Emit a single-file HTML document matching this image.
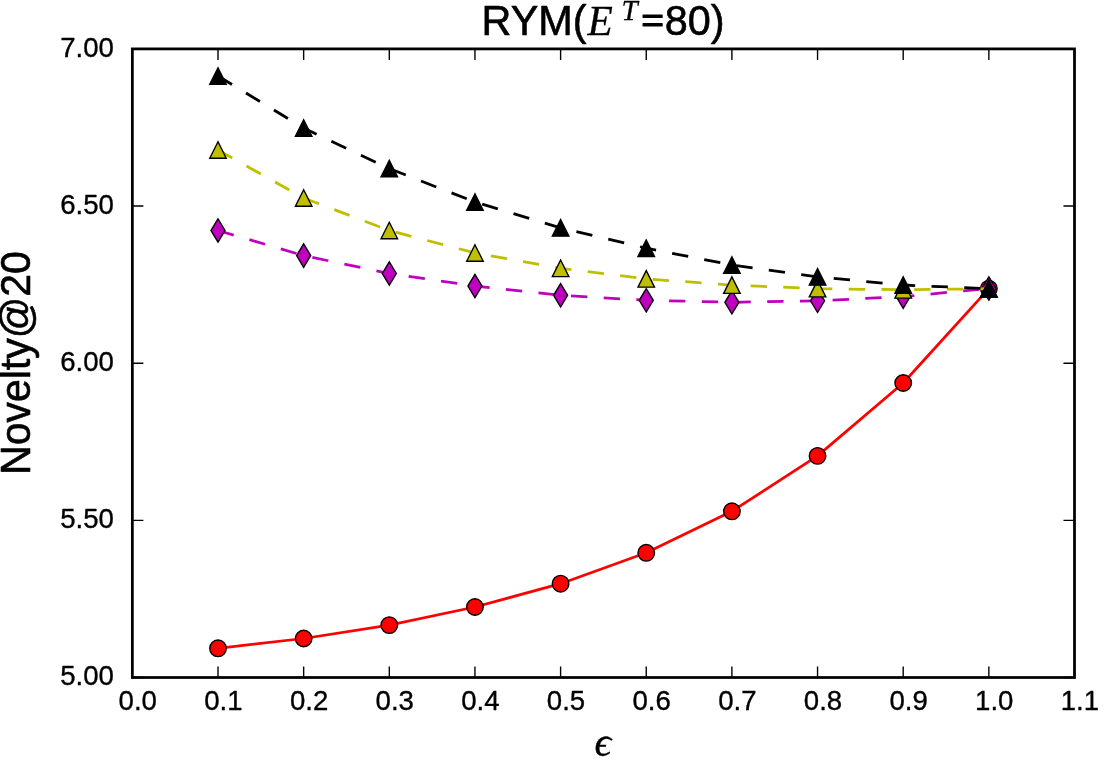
<!DOCTYPE html>
<html><head><meta charset="utf-8"><title>RYM novelty chart</title>
<style>html,body{margin:0;padding:0;background:#fff;}body{width:1105px;height:766px;overflow:hidden;font-family:"Liberation Sans",sans-serif;}svg{display:block;will-change:transform;}text{font-family:"Liberation Sans",sans-serif;fill:#000;}</style>
</head><body>
<svg width="1105" height="766" viewBox="0 0 1105 766">
<rect x="0" y="0" width="1105" height="766" fill="#ffffff"/>
<defs>
<path id="mk-tri" d="M0 -8.28 L-8.28 8.28 L8.28 8.28 Z"/>
<path id="mk-dia" d="M0 -11.71 L7.03 0 L0 11.71 L-7.03 0 Z"/>
<circle id="mk-cir" cx="0" cy="0" r="8.28"/>
</defs>
<g id="lines" fill="none" stroke-linejoin="round">
<g class="series-r">
<polyline points="218,648.3 303.65,638.5 389.3,625.1 474.95,607 560.6,583.7 646.25,552.8 731.9,511.3 817.55,455.9 903.2,383 988.85,288.6" stroke="#ff0000" stroke-width="2.76"/>
<g fill="#ff0000" stroke="#000" stroke-width="1.38" stroke-linejoin="miter">
<use href="#mk-cir" x="218" y="648.3"/>
<use href="#mk-cir" x="303.65" y="638.5"/>
<use href="#mk-cir" x="389.3" y="625.1"/>
<use href="#mk-cir" x="474.95" y="607"/>
<use href="#mk-cir" x="560.6" y="583.7"/>
<use href="#mk-cir" x="646.25" y="552.8"/>
<use href="#mk-cir" x="731.9" y="511.3"/>
<use href="#mk-cir" x="817.55" y="455.9"/>
<use href="#mk-cir" x="903.2" y="383"/>
<use href="#mk-cir" x="988.85" y="288.6"/>
</g></g>
<g class="series-m">
<polyline points="218,230.45 303.65,255.6 389.3,273.5 474.95,286.05 560.6,295.3 646.25,300.3 731.9,302.3 817.55,300.8 903.2,296.6 988.85,288.5" stroke="#bf00bf" stroke-width="2.76" stroke-dasharray="16.36 16.36"/>
<g fill="#bf00bf" stroke="#000" stroke-width="1.38" stroke-linejoin="miter">
<use href="#mk-dia" x="218" y="230.45"/>
<use href="#mk-dia" x="303.65" y="255.6"/>
<use href="#mk-dia" x="389.3" y="273.5"/>
<use href="#mk-dia" x="474.95" y="286.05"/>
<use href="#mk-dia" x="560.6" y="295.3"/>
<use href="#mk-dia" x="646.25" y="300.3"/>
<use href="#mk-dia" x="731.9" y="302.3"/>
<use href="#mk-dia" x="817.55" y="300.8"/>
<use href="#mk-dia" x="903.2" y="296.6"/>
<use href="#mk-dia" x="988.85" y="288.5"/>
</g></g>
<g class="series-y">
<polyline points="218,150 303.65,198 389.3,230.5 474.95,253 560.6,268.3 646.25,278.9 731.9,285.1 817.55,288.6 903.2,289.8 988.85,288.7" stroke="#bfbf00" stroke-width="2.76" stroke-dasharray="16.36 16.36"/>
<g fill="#bfbf00" stroke="#000" stroke-width="1.38" stroke-linejoin="miter">
<use href="#mk-tri" x="218" y="150"/>
<use href="#mk-tri" x="303.65" y="198"/>
<use href="#mk-tri" x="389.3" y="230.5"/>
<use href="#mk-tri" x="474.95" y="253"/>
<use href="#mk-tri" x="560.6" y="268.3"/>
<use href="#mk-tri" x="646.25" y="278.9"/>
<use href="#mk-tri" x="731.9" y="285.1"/>
<use href="#mk-tri" x="817.55" y="288.6"/>
<use href="#mk-tri" x="903.2" y="289.8"/>
<use href="#mk-tri" x="988.85" y="288.7"/>
</g></g>
<g class="series-k">
<polyline points="218,76 303.65,128 389.3,168.6 474.95,202 560.6,227.85 646.25,248.2 731.9,265 817.55,276.9 903.2,285 988.85,288.8" stroke="#000000" stroke-width="2.76" stroke-dasharray="16.36 16.36"/>
<g fill="#000000" stroke="#000" stroke-width="1.38" stroke-linejoin="miter">
<use href="#mk-tri" x="218" y="76"/>
<use href="#mk-tri" x="303.65" y="128"/>
<use href="#mk-tri" x="389.3" y="168.6"/>
<use href="#mk-tri" x="474.95" y="202"/>
<use href="#mk-tri" x="560.6" y="227.85"/>
<use href="#mk-tri" x="646.25" y="248.2"/>
<use href="#mk-tri" x="731.9" y="265"/>
<use href="#mk-tri" x="817.55" y="276.9"/>
<use href="#mk-tri" x="903.2" y="285"/>
<use href="#mk-tri" x="988.85" y="288.8"/>
</g></g>
</g>
<g id="ticks" stroke="#000" stroke-width="1.38" fill="none">
<path d="M132.35 677.5 v-11.04 M132.35 48.9 v11.04 M218 677.5 v-11.04 M218 48.9 v11.04 M303.65 677.5 v-11.04 M303.65 48.9 v11.04 M389.3 677.5 v-11.04 M389.3 48.9 v11.04 M474.95 677.5 v-11.04 M474.95 48.9 v11.04 M560.6 677.5 v-11.04 M560.6 48.9 v11.04 M646.25 677.5 v-11.04 M646.25 48.9 v11.04 M731.9 677.5 v-11.04 M731.9 48.9 v11.04 M817.55 677.5 v-11.04 M817.55 48.9 v11.04 M903.2 677.5 v-11.04 M903.2 48.9 v11.04 M988.85 677.5 v-11.04 M988.85 48.9 v11.04 M1074.5 677.5 v-11.04 M1074.5 48.9 v11.04 M132.35 677.5 h11.04 M1074.5 677.5 h-11.04 M132.35 520.35 h11.04 M1074.5 520.35 h-11.04 M132.35 363.2 h11.04 M1074.5 363.2 h-11.04 M132.35 206.05 h11.04 M1074.5 206.05 h-11.04 M132.35 48.9 h11.04 M1074.5 48.9 h-11.04"/>
</g>
<rect id="frame" x="132.35" y="48.9" width="942.15" height="628.6" fill="none" stroke="#000" stroke-width="2.76"/>
<g id="ticklabels" fill="#000" stroke="#000" stroke-width="0.35" stroke-linejoin="round" font-size="27.6px">
<text x="118.6" y="709.6">0.0</text>
<text x="204.25" y="709.6">0.1</text>
<text x="289.9" y="709.6">0.2</text>
<text x="375.55" y="709.6">0.3</text>
<text x="461.2" y="709.6">0.4</text>
<text x="546.85" y="709.6">0.5</text>
<text x="632.5" y="709.6">0.6</text>
<text x="718.15" y="709.6">0.7</text>
<text x="803.8" y="709.6">0.8</text>
<text x="889.45" y="709.6">0.9</text>
<text x="975.1" y="709.6">1.0</text>
<text x="1060.75" y="709.6">1.1</text>
<text x="60.25" y="685.26">5.00</text>
<text x="60.25" y="528.11">5.50</text>
<text x="60.25" y="370.96">6.00</text>
<text x="60.25" y="213.81">6.50</text>
<text x="60.25" y="56.66">7.00</text>
</g>
<g id="title" stroke="#000" stroke-width="0.6" stroke-linejoin="round">
<text transform="translate(481.6 35.1) scale(1 1.035)" font-size="41.4px">RYM(</text>
<text x="587.5" y="34.9" font-size="41.4px" font-style="italic" stroke-width="0.3" style="font-family:'Liberation Serif','DejaVu Serif',serif;">E</text>
<text x="621.5" y="19.6" font-size="29px" font-style="italic" stroke-width="0.3" style="font-family:'Liberation Serif','DejaVu Serif',serif;">T</text>
<text transform="translate(641.23 31.98) scale(0.94 0.81)" stroke-width="1.4" font-size="41.4px">=</text>
<text transform="translate(664.68 35.1) scale(1 1.035)" font-size="41.4px">80)</text>
</g>
<text id="ylabel" stroke="#000" stroke-width="0.6" stroke-linejoin="round" transform="translate(30.2 363) rotate(-90) scale(0.988 1.02)" text-anchor="middle" font-size="41.4px">Novelty@20</text>
<text id="xlabel" x="594.5" y="756.3" font-size="41.4px" font-style="italic" stroke="#000" stroke-width="0.3" style="font-family:'Liberation Serif','DejaVu Serif',serif;">ϵ</text>
</svg>
</body></html>
